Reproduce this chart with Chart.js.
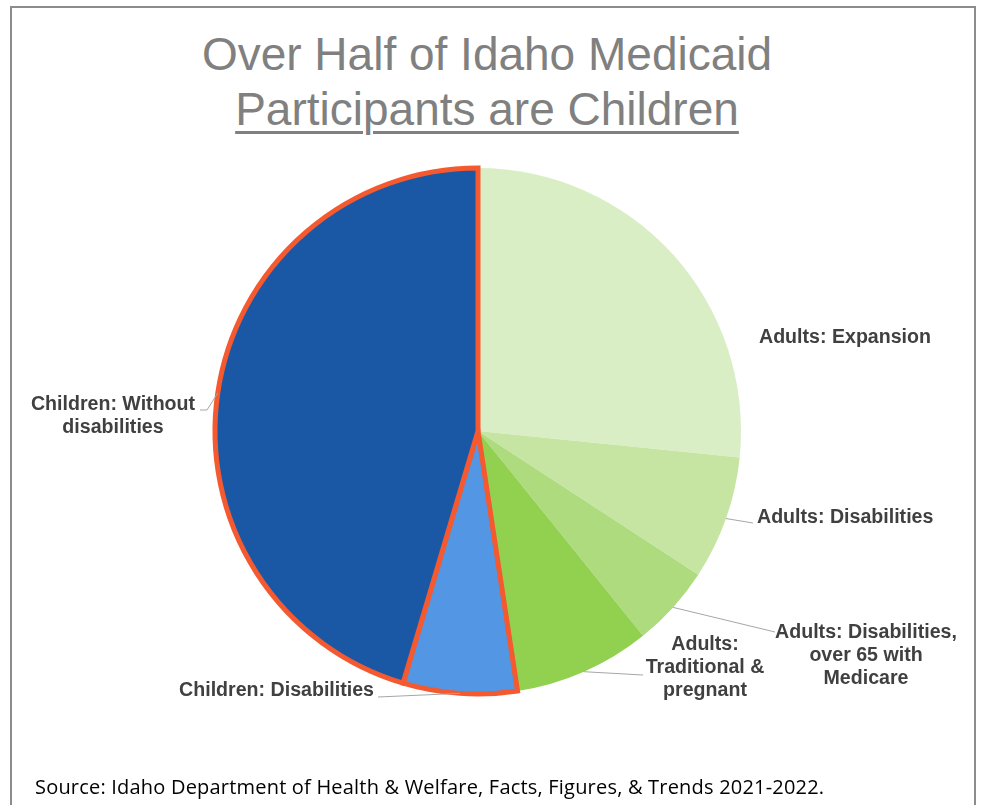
<!DOCTYPE html>
<html>
<head>
<meta charset="utf-8">
<script src="https://cdn.jsdelivr.net/npm/chart.js@4"></script>
<style>
    html, body { margin: 0; padding: 0; background: #fff; }
    #page { position: relative; width: 982px; height: 805px; overflow: hidden; }
    #frame {
        position: absolute; left: 10px; top: 6px; width: 966px; height: 820px;
        border: 2px solid #8c8c8c; box-sizing: border-box;
    }
    .title {
        position: absolute; left: 87px; width: 800px; text-align: center;
        font-family: "Liberation Sans", Arial, sans-serif; font-size: 46px;
        color: #808080; white-space: nowrap;
    }
    #t1 { top: 27px; }
    #t2 { top: 82px; }
    #t2 span { text-decoration: underline; text-decoration-thickness: 3px; text-underline-offset: 6px; }
    #source {
        position: absolute; left: 35px; top: 773px;
        font-family: "Open Sans", Lato, sans-serif; font-size: 20px; letter-spacing: 0.2px;
        color: #000; white-space: nowrap;
    }
    #chartBox { position: absolute; left: 0; top: 0; width: 982px; height: 805px; }
</style>
</head>
<body>
<div id="page">
    <div id="frame"></div>
    <div class="title" id="t1">Over Half of Idaho Medicaid</div>
    <div class="title" id="t2"><span>Participants are Children</span></div>
    <div id="chartBox"><canvas id="pieChart"></canvas></div>
    <div id="source">Source: Idaho Department of Health &amp; Welfare, Facts, Figures, &amp; Trends 2021-2022.</div>
</div>

<script>
// Data (share of participants, %), clockwise from 12 o'clock
const categories = [
    'Adults: Expansion',
    'Adults: Disabilities',
    'Adults: Disabilities, over 65 with Medicare',
    'Adults: Traditional & pregnant',
    'Children: Disabilities',
    'Children: Without disabilities'
];
const shares = [26.6, 7.6, 5.0, 8.4, 7.0, 45.4];

const sliceColors = ['#daeec6', '#c6e5a2', '#aedb7d', '#92d050', '#5396e4', '#1a58a6'];
const sliceBorders = [0, 0, 0, 0, 5, 5];

// Label text lines and where they sit (layout only)
const labelLines = [
    ['Adults: Expansion'],
    ['Adults: Disabilities'],
    ['Adults: Disabilities,', 'over 65 with', 'Medicare'],
    ['Adults:', 'Traditional &', 'pregnant'],
    ['Children: Disabilities'],
    ['Children: Without', 'disabilities']
];
const labelLayout = [
    { x: 759, y: 338, align: 'left', leader: null },
    { x: 757, y: 518, align: 'left', leader: [[753, 523]] },
    { x: 866, y: 633, align: 'center', leader: [[775, 632]] },
    { x: 705, y: 645, align: 'center', leader: [[643, 675]] },
    { x: 374, y: 691, align: 'right', leader: [[378, 697]] },
    { x: 113, y: 405, align: 'center', leader: [[207, 410], [200, 410]] }
];

// Draws the data labels with leader lines from each slice's outer edge
const pieLabels = {
    id: 'pieLabels',
    afterDatasetsDraw(chart) {
        const ctx = chart.ctx;
        const arcs = chart.getDatasetMeta(0).data;
        ctx.save();
        arcs.forEach((arc, i) => {
            const lay = labelLayout[i];
            const p = arc.getProps(['x', 'y', 'startAngle', 'endAngle', 'outerRadius'], true);
            const mid = (p.startAngle + p.endAngle) / 2;
            if (lay.leader) {
                ctx.strokeStyle = '#a6a6a6';
                ctx.lineWidth = 1;
                ctx.beginPath();
                ctx.moveTo(p.x + Math.cos(mid) * p.outerRadius, p.y + Math.sin(mid) * p.outerRadius);
                lay.leader.forEach(pt => ctx.lineTo(pt[0], pt[1]));
                ctx.stroke();
            }
            ctx.fillStyle = '#404040';
            ctx.font = 'bold 19.6px "Liberation Sans", Arial, sans-serif';
            ctx.textAlign = lay.align;
            ctx.textBaseline = 'middle';
            labelLines[i].forEach((line, k) => {
                ctx.fillText(line, lay.x, lay.y + k * 23);
            });
        });
        ctx.restore();
    }
};

let pieChart = null;

function initChart() {
    const ctx = document.getElementById('pieChart').getContext('2d');
    pieChart = new Chart(ctx, {
        type: 'pie',
        data: {
            labels: categories,
            datasets: [{
                data: shares,
                backgroundColor: sliceColors,
                borderColor: '#f4592f',
                borderWidth: sliceBorders,
                borderJoinStyle: 'miter'
            }]
        },
        options: {
            responsive: true,
            maintainAspectRatio: false,
            animation: false,
            radius: 263,
            layout: { padding: { left: 200, right: 226, top: 150, bottom: 93 } },
            plugins: {
                legend: { display: false },
                tooltip: { enabled: false }
            }
        },
        plugins: [pieLabels]
    });
}

document.addEventListener('DOMContentLoaded', initChart);
</script>
</body>
</html>
